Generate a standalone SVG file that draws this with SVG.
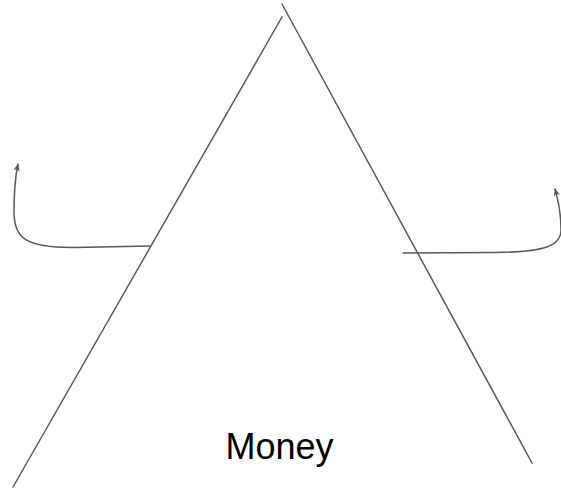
<svg xmlns="http://www.w3.org/2000/svg" width="561" height="488" viewBox="0 0 561 488">
<style>
.ln{fill:none;stroke:#595959;stroke-width:1.5;stroke-linecap:round}
.lbl{font-family:"Liberation Sans",Arial,sans-serif;font-size:36px;fill:#000}
</style>
<defs>
<marker id="ah" viewBox="0 0 10 10" refX="9" refY="5" markerWidth="8" markerHeight="8" orient="auto" markerUnits="userSpaceOnUse">
<path d="M0,1 L10,5 L0,9 L3,5 Z" fill="#595959"/>
</marker>
</defs>
<rect width="561" height="488" fill="#fff"/>
<g id="triangle">
<line class="ln" x1="13" y1="487" x2="282" y2="17"/>
<line class="ln" x1="282" y1="4" x2="532" y2="463"/>
</g>
<g id="label"><text class="lbl" x="279.5" y="459" text-anchor="middle">Money</text></g>
<g id="connectors">
<path class="ln" marker-end="url(#ah)" d="M150,246 L75,247.5 C25,248 14,238 14,212 C14,192 15,178 18,164"/>
<path class="ln" marker-end="url(#ah)" d="M403,253 L495,252.5 C545,252 561,246 561,230 C561,212 558,199 555,189"/>
</g>
</svg>
